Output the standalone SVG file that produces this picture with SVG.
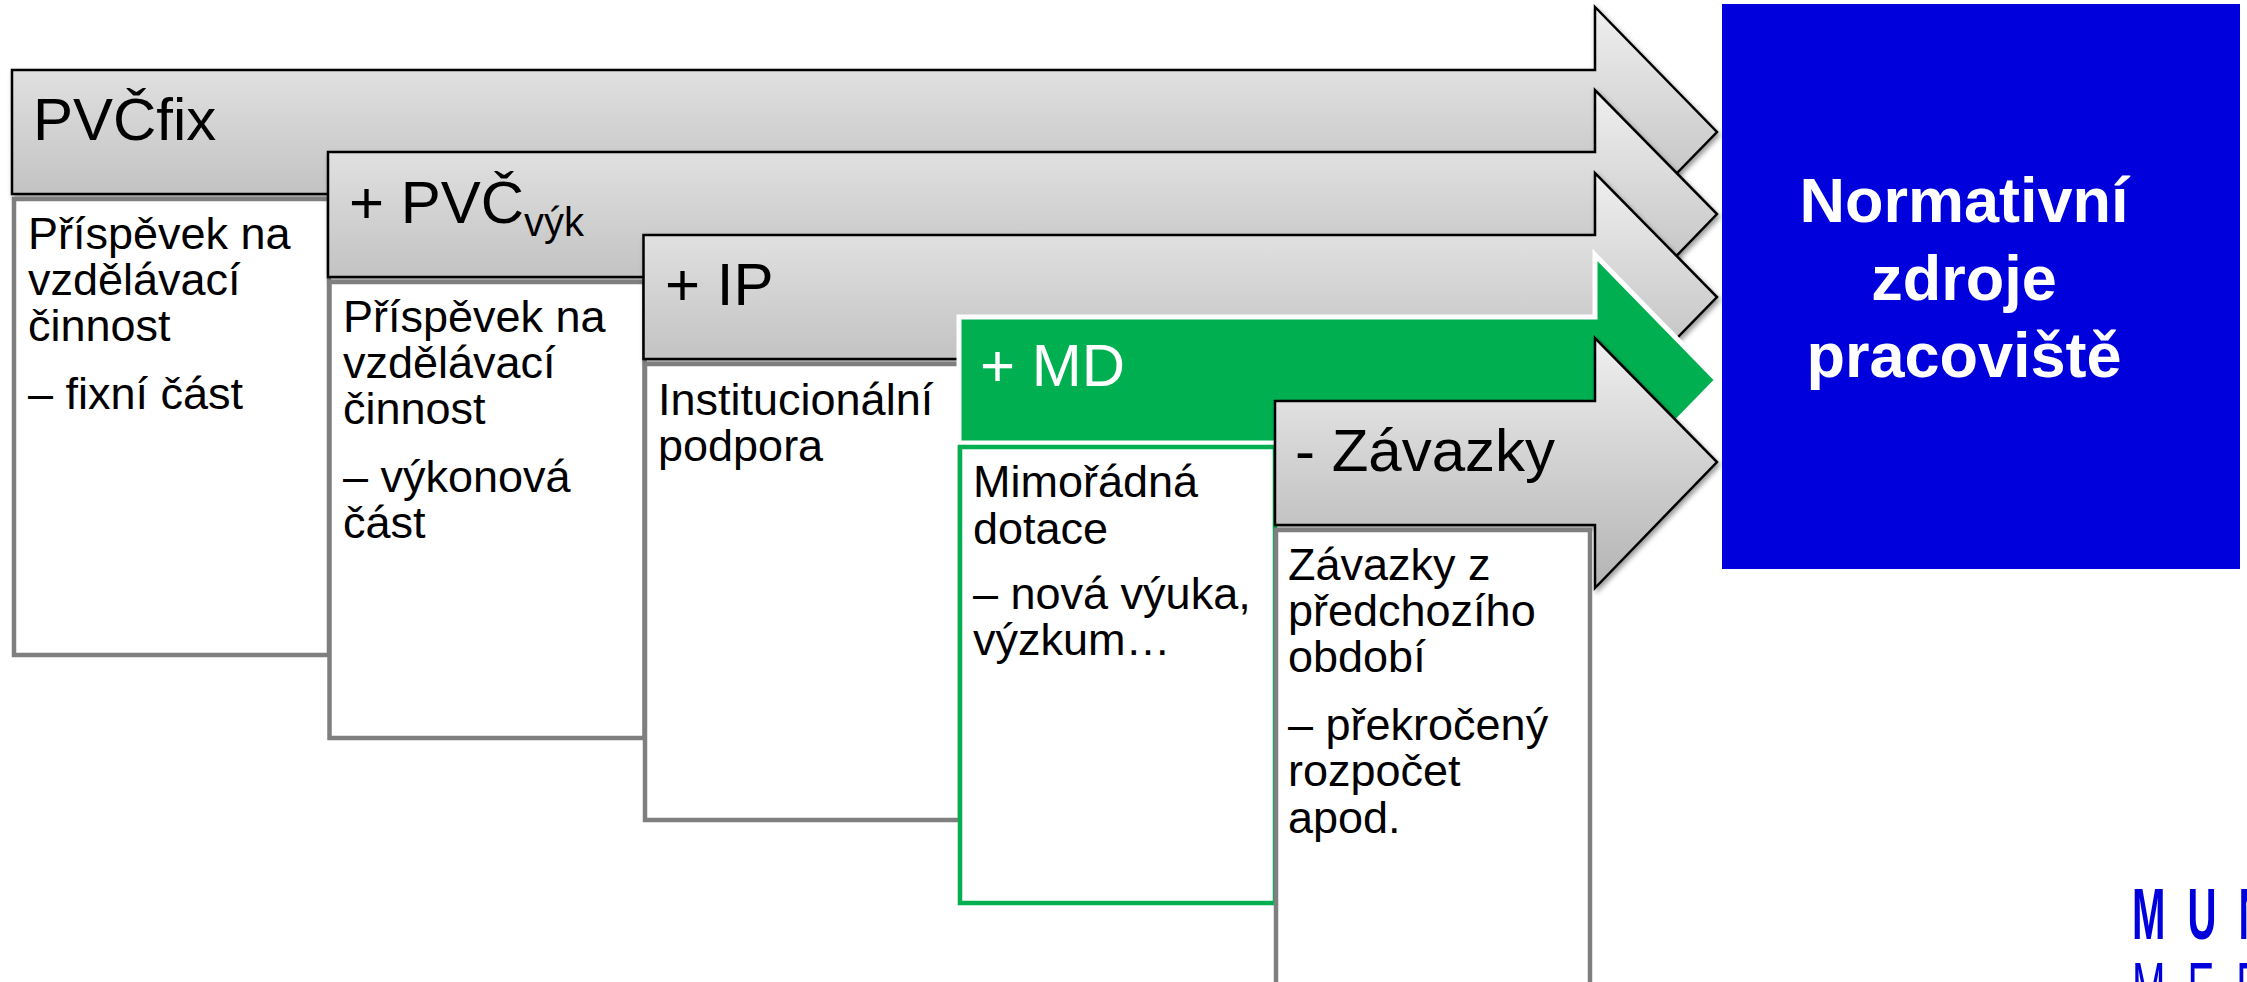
<svg xmlns="http://www.w3.org/2000/svg" width="2247" height="982" viewBox="0 0 2247 982">
<defs>
<linearGradient id="g" x1="0" y1="0" x2="0" y2="1"><stop offset="0" stop-color="#efefef"/><stop offset="1" stop-color="#b4b4b4"/></linearGradient>
<filter id="s" x="-5%" y="-10%" width="110%" height="125%"><feDropShadow dx="2" dy="3" stdDeviation="2.5" flood-color="#000" flood-opacity="0.4"/></filter>
</defs>
<style>
text{font-family:"Liberation Sans",Arial,sans-serif;fill:#000}
.arrow{fill:url(#g);stroke:#000;stroke-width:2.5;filter:url(#s)}
.box{fill:#fff;stroke:#7f7f7f;stroke-width:4.5}
.t{font-size:60px}
.b{font-size:45px}
.sub{font-size:40px}
.w{fill:#fff}
.h{font-size:63px;font-weight:700;fill:#fff;text-anchor:middle}
</style>
<rect width="2247" height="982" fill="#fff"/>
<g id="target">
<rect x="1722" y="4" width="518" height="565" fill="#0000dc"/>
<text class="h" x="1964" y="222">Normativní</text>
<text class="h" x="1964" y="300">zdroje</text>
<text class="h" x="1964" y="377">pracoviště</text>
</g>
<g id="node-fix">
<path class="arrow" d="M12 70H1595V7L1717 132L1595 257V194H12Z"/>
<text class="t" x="33" y="140">PVČfix</text>
<rect class="box" x="14" y="199" width="315" height="456"/>
<text class="b" x="28" y="249">Příspěvek na</text>
<text class="b" x="28" y="295">vzdělávací</text>
<text class="b" x="28" y="341">činnost</text>
<text class="b" x="28" y="409">– fixní část</text>
</g>
<g id="node-vyk">
<path class="arrow" d="M328 152H1595V90L1717 214L1595 340V277H328Z"/>
<text class="t" x="349" y="223">+ PVČ<tspan class="sub" dy="13">výk</tspan></text>
<rect class="box" x="329.500" y="282" width="315" height="456"/>
<text class="b" x="343" y="332">Příspěvek na</text>
<text class="b" x="343" y="378">vzdělávací</text>
<text class="b" x="343" y="424">činnost</text>
<text class="b" x="343" y="492">– výkonová</text>
<text class="b" x="343" y="538">část</text>
</g>
<g id="node-ip">
<path class="arrow" d="M643.500 235H1595V173L1717 297L1595 422V359H643.500Z"/>
<text class="t" x="665" y="305">+ IP</text>
<rect class="box" x="645" y="364" width="315" height="456"/>
<text class="b" x="658" y="415">Institucionální</text>
<text class="b" x="658" y="461">podpora</text>
</g>
<g id="node-md">
<path d="M959 317H1595V255L1717 380L1595 505V443H959Z" fill="#00b050" stroke="#fff" stroke-width="5"/>
<text class="t w" x="980" y="386">+ MD</text>
<rect class="box" x="960" y="447" width="315" height="456" style="stroke:#00b050"/>
<text class="b" x="973" y="497">Mimořádná</text>
<text class="b" x="973" y="544">dotace</text>
<text class="b" x="973" y="609">– nová výuka,</text>
<text class="b" x="973" y="655">výzkum…</text>
</g>
<g id="node-zavazky">
<path class="arrow" d="M1275 401H1595V338L1717 462L1595 588V525H1275Z"/>
<text class="t" x="1295" y="471">- Závazky</text>
<rect class="box" x="1276" y="530" width="314" height="456"/>
<text class="b" x="1288" y="580">Závazky z</text>
<text class="b" x="1288" y="626">předchozího</text>
<text class="b" x="1288" y="672">období</text>
<text class="b" x="1288" y="740">– překročený</text>
<text class="b" x="1288" y="786">rozpočet</text>
<text class="b" x="1288" y="833">apod.</text>
</g>
<g id="logo">
<text transform="translate(2132,939) scale(.55,1)" font-size="73" font-weight="700" letter-spacing="40" style="fill:#0000dc">MUNI</text>
<text transform="translate(2132,1013) scale(.55,1)" font-size="73" letter-spacing="40" style="fill:#0000dc">MED</text>
</g>
</svg>
